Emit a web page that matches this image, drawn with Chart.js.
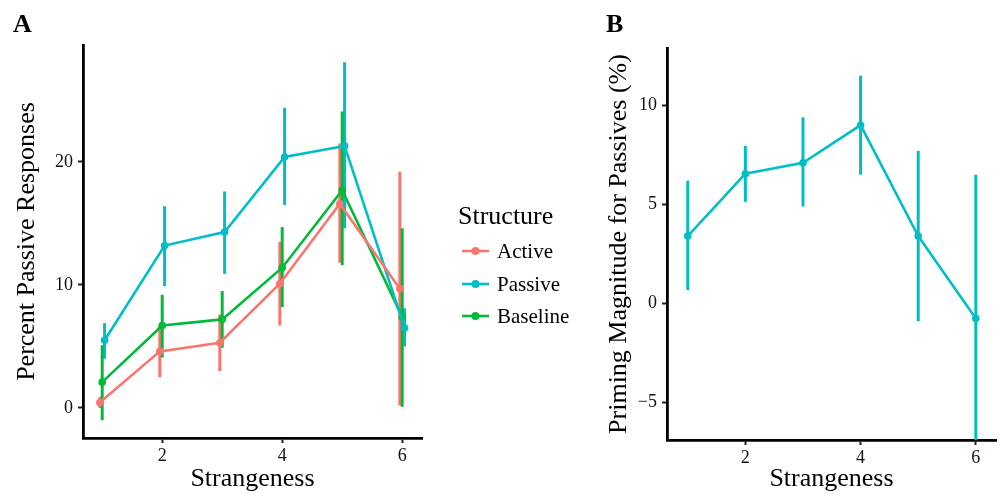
<!DOCTYPE html>
<html>
<head>
  <meta charset="utf-8">
  <title>Strangeness and passive responses</title>
  <style>
    body { margin: 0; background: #fff; }
    #wrap { position: relative; width: 1007px; height: 497px; }
    #chartA { position: absolute; left: 0; top: 0; }
    #chartB { position: absolute; left: 590px; top: 0; }
  </style>
</head>
<body>
<script src="https://cdn.jsdelivr.net/npm/chart.js@4/dist/chart.umd.min.js"></script>
<div id="wrap">
  <canvas id="chartA" width="590" height="497"></canvas>
  <canvas id="chartB" width="417" height="497"></canvas>
</div>
<script>
  // Strangeness levels (x)
  var strangeness = [1, 2, 3, 4, 5, 6];

  // Panel A: percent passive responses, with error bar ends
  var activeMean = [0.45, 4.6, 5.3, 10.1, 16.6, 9.7];
  var activeLow  = [0.0, 2.5, 3.0, 6.7, 11.8, 0.2];
  var activeHigh = [0.9, 6.7, 7.6, 13.5, 21.5, 19.2];

  var passiveMean = [5.5, 13.2, 14.3, 20.4, 21.3, 6.5];
  var passiveLow  = [4.0, 9.9, 10.9, 16.5, 14.6, 5.0];
  var passiveHigh = [6.9, 16.4, 17.6, 24.4, 28.1, 8.1];

  var baselineMean = [2.1, 6.7, 7.2, 11.4, 17.7, 7.4];
  var baselineLow  = [-1.0, 4.1, 4.9, 8.2, 11.6, 0.1];
  var baselineHigh = [5.1, 9.2, 9.5, 14.7, 24.1, 14.6];

  // Panel B: priming magnitude for passives (%)
  var primingMean = [3.4, 6.55, 7.1, 9.0, 3.4, -0.76];
  var primingLow  = [0.67, 5.13, 4.9, 6.5, -0.9, -8.0];
  var primingHigh = [6.2, 7.96, 9.4, 11.5, 7.7, 6.5];

  var ticksA = [0, 10, 20];
  var ticksB = [-5, 0, 5, 10];
  var ticksX = [2, 4, 6];

  var RED = '#F8766D', CYAN = '#00BFC4', GREEN = '#00BA38';
  var SERIF = "'Liberation Serif', 'DejaVu Serif', serif";

  function pts(xs, ys, shift) {
    return xs.map(function(x, i) { return {x: x + shift, y: ys[i]}; });
  }

  function series(label, color, mean, low, high, shift) {
    return {
      label: label,
      data: pts(strangeness, mean, shift),
      low: low,
      high: high,
      shift: shift,
      borderColor: color,
      backgroundColor: color,
      borderWidth: 2.6,
      pointRadius: 3.8,
      pointBorderWidth: 0,
      pointHoverRadius: 3.8,
      tension: 0
    };
  }

  // vertical error bars drawn through the scales
  var errorBars = {
    id: 'errorBars',
    beforeDatasetsDraw: function(chart) {
      var ctx = chart.ctx, xs = chart.scales.x, ys = chart.scales.y, a = chart.chartArea;
      ctx.save();
      ctx.beginPath();
      ctx.rect(a.left, a.top, a.right - a.left, a.bottom - a.top);
      ctx.clip();
      chart.data.datasets.forEach(function(ds) {
        ctx.strokeStyle = ds.borderColor;
        ctx.lineWidth = 3;
        strangeness.forEach(function(x, i) {
          var px = xs.getPixelForValue(x + ds.shift);
          ctx.beginPath();
          ctx.moveTo(px, ys.getPixelForValue(ds.low[i]));
          ctx.lineTo(px, ys.getPixelForValue(ds.high[i]));
          ctx.stroke();
        });
      });
      ctx.restore();
    }
  };

  // panel letter + optional legend
  var panelDecor = {
    id: 'panelDecor',
    afterDraw: function(chart, args, opts) {
      var ctx = chart.ctx;
      ctx.save();
      ctx.fillStyle = '#000';
      ctx.textBaseline = 'alphabetic';
      ctx.textAlign = 'left';
      ctx.font = 'bold 26px ' + SERIF;
      ctx.fillText(opts.letter, opts.letterX, 32);
      if (opts.legend) {
        ctx.font = '26px ' + SERIF;
        ctx.fillText('Structure', 458, 224);
        ctx.font = '21px ' + SERIF;
        ctx.textBaseline = 'middle';
        var ys = [251, 284, 316];
        chart.data.datasets.forEach(function(ds, i) {
          var y = ys[i];
          ctx.strokeStyle = ds.borderColor;
          ctx.fillStyle = ds.borderColor;
          ctx.lineWidth = 2.6;
          ctx.beginPath();
          ctx.moveTo(462, y);
          ctx.lineTo(489, y);
          ctx.stroke();
          ctx.beginPath();
          ctx.arc(475.5, y, 4, 0, Math.PI * 2);
          ctx.fill();
          ctx.fillStyle = '#000';
          ctx.fillText(ds.label, 497, y + 1);
        });
      }
      ctx.restore();
    }
  };

  function keepTicks(list) {
    return function(scale) {
      scale.ticks = list.map(function(v) { return {value: v}; });
    };
  }

  function axisOpts(min, max, tickList, title, fitSize, titlePad, isX) {
    return {
      type: 'linear',
      min: min,
      max: max,
      afterBuildTicks: keepTicks(tickList),
      afterFit: function(scale) {
        if (isX) scale.height = fitSize; else scale.width = fitSize;
      },
      grid: {
        drawOnChartArea: false,
        drawTicks: true,
        tickLength: 5,
        tickWidth: 2,
        color: '#222'
      },
      border: { display: true, color: '#000', width: 2.8 },
      ticks: {
        color: '#111',
        padding: isX ? 2 : 5,
        font: { family: SERIF, size: 18 },
        callback: function(v) { return v < 0 ? '\u2212' + Math.abs(v) : String(v); }
      },
      title: {
        display: true,
        text: title,
        color: '#000',
        font: { family: SERIF, size: 26 },
        padding: titlePad
      }
    };
  }

  Chart.defaults.animation = false;
  Chart.defaults.responsive = false;

  new Chart(document.getElementById('chartA'), {
    type: 'line',
    data: {
      datasets: [
        series('Active', RED, activeMean, activeLow, activeHigh, -0.04),
        series('Passive', CYAN, passiveMean, passiveLow, passiveHigh, 0.04),
        series('Baseline', GREEN, baselineMean, baselineLow, baselineHigh, 0)
      ]
    },
    options: {
      layout: { padding: { left: 0, top: 45, right: 168, bottom: 0 } },
      plugins: {
        legend: { display: false },
        tooltip: { enabled: false },
        panelDecor: { letter: 'A', letterX: 13, legend: true }
      },
      scales: {
        x: axisOpts(0.68, 6.33, ticksX, 'Strangeness', 59, { top: 0, bottom: 2 }, true),
        y: axisOpts(-2.44, 29.5, ticksA, 'Percent Passive Responses', 83, { top: 12, bottom: 0 }, false)
      }
    },
    plugins: [errorBars, panelDecor]
  });

  new Chart(document.getElementById('chartB'), {
    type: 'line',
    data: {
      datasets: [
        series('Priming', CYAN, primingMean, primingLow, primingHigh, 0)
      ]
    },
    options: {
      layout: { padding: { left: 0, top: 48, right: 11, bottom: 0 } },
      plugins: {
        legend: { display: false },
        tooltip: { enabled: false },
        panelDecor: { letter: 'B', letterX: 16, legend: false }
      },
      scales: {
        x: axisOpts(0.64, 6.35, ticksX, 'Strangeness', 57, { top: 0, bottom: 2 }, true),
        y: axisOpts(-6.9, 12.9, ticksB, 'Priming Magnitude for Passives (%)', 77, { top: 14, bottom: 0 }, false)
      }
    },
    plugins: [errorBars, panelDecor]
  });
</script>
</body>
</html>
